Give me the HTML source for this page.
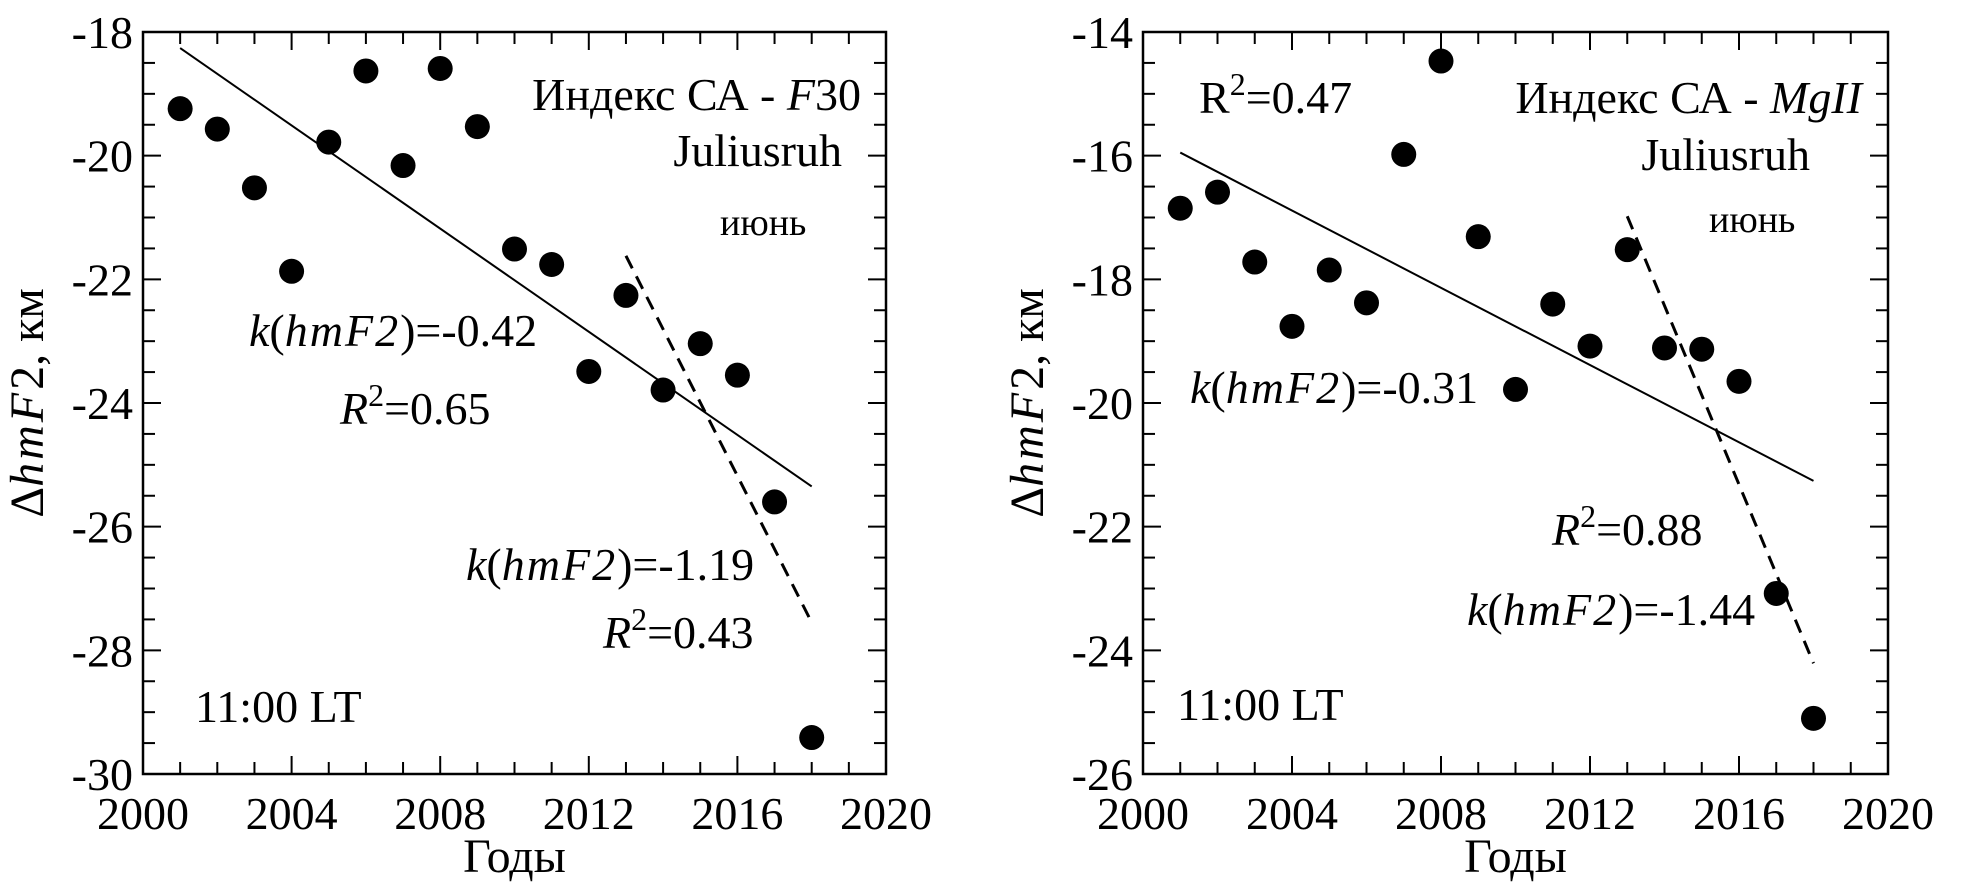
<!DOCTYPE html>
<html><head><meta charset="utf-8"><style>
html,body{margin:0;padding:0;background:#fff;}
svg{display:block;font-family:"Liberation Serif",serif;}
</style></head><body>
<svg id="svg" width="1965" height="887" viewBox="0 0 1965 887" xmlns="http://www.w3.org/2000/svg"></svg>
<script>
const years = [2001,2002,2003,2004,2005,2006,2007,2008,2009,2010,2011,2012,2013,2014,2015,2016,2017,2018];
const f30Values = [-19.24,-19.57,-20.52,-21.87,-19.78,-18.63,-20.16,-18.59,-19.53,-21.51,-21.76,-23.49,-22.26,-23.79,-23.04,-23.55,-25.60,-29.41];
const mg2Values = [-16.85,-16.59,-17.72,-18.76,-17.85,-18.38,-15.98,-14.47,-17.31,-19.78,-18.40,-19.08,-17.52,-19.11,-19.13,-19.65,-23.08,-25.10];
const f30Trend = [[2001,-18.26],[2018,-25.35]];
const f30Dashed = [[2013,-21.62],[2018,-27.55]];
const mg2Trend = [[2001,-15.95],[2018,-21.26]];
const mg2Dashed = [[2013,-16.98],[2018,-24.21]];
const xTicks = [2000,2004,2008,2012,2016,2020];
const f30YTicks = [-18,-20,-22,-24,-26,-28,-30];
const mg2YTicks = [-14,-16,-18,-20,-22,-24,-26];

const NS="http://www.w3.org/2000/svg";
const svg=document.getElementById('svg');
function el(tag,attrs,parent){const e=document.createElementNS(NS,tag);for(const k in attrs)e.setAttribute(k,attrs[k]);(parent||svg).appendChild(e);return e;}

function panel(cfg){
  const g=el('g',{});
  
  
  const L=cfg.left,R=cfg.right,T=32,B=774;
  const sx=v=>L+(v-2000)/20*(R-L);
  const sy=v=>T+(cfg.ymax-v)/12*(B-T);
  for(let y=2000;y<=2020;y++){
    const len=(y%4===0)?18:12;const x=sx(y);
    el('line',{x1:x,y1:B,x2:x,y2:B-len,stroke:'#000','stroke-width':2},g);
    el('line',{x1:x,y1:T,x2:x,y2:T+len,stroke:'#000','stroke-width':2},g);
  }
  for(let i=0;i<=24;i++){
    const v=cfg.ymax-i*0.5;const y=sy(v);const len=(i%4===0)?18:12;
    el('line',{x1:L,y1:y,x2:L+len,y2:y,stroke:'#000','stroke-width':2},g);
    el('line',{x1:R,y1:y,x2:R-len,y2:y,stroke:'#000','stroke-width':2},g);
  }
  const frame=el('rect',{x:L,y:T,width:R-L,height:B-T,fill:'none',stroke:'#000','stroke-width':2.5},g);
  
  
  xTicks.forEach(t=>{const tx=el('text',{x:sx(t),y:829,'font-size':46,'text-anchor':'middle'},g);tx.textContent=t;
    });
  cfg.yTicks.forEach(t=>{const tx=el('text',{x:L-10,y:sy(t)+16,'font-size':46,'text-anchor':'end'},g);tx.textContent=String(t);
    });
  const xt=el('text',{x:(L+R)/2,y:872,'font-size':48,'text-anchor':'middle'},g);xt.textContent='Годы';
  
  const yt=el('text',{x:0,y:0,'font-size':48,'text-anchor':'middle',transform:`translate(${L-100},${(T+B)/2}) rotate(-90)`},g);
  yt.innerHTML='<tspan>Δ</tspan><tspan font-style="italic" letter-spacing="3">hmF</tspan><tspan>2, км</tspan>';
  
  const ln=el('line',{x1:sx(cfg.trend[0][0]),y1:sy(cfg.trend[0][1]),x2:sx(cfg.trend[1][0]),y2:sy(cfg.trend[1][1]),stroke:'#000','stroke-width':2},g);
  
  const dl=el('line',{x1:sx(cfg.dashed[0][0]),y1:sy(cfg.dashed[0][1]),x2:sx(cfg.dashed[1][0]),y2:sy(cfg.dashed[1][1]),stroke:'#000','stroke-width':3,'stroke-dasharray':'14,9'},g);
  
  years.forEach((yr,i)=>{const c=el('circle',{cx:sx(yr),cy:sy(cfg.values[i]),r:12.5,fill:'#000'},g);
    });
  cfg.texts.forEach(t=>{const tx=el('text',{x:t[0],y:t[1],'font-size':t[4]||46,'text-anchor':t[3]||'start'},g);tx.innerHTML=t[2];
    });
}
const K='<tspan font-style="italic">k</tspan>(<tspan font-style="italic" letter-spacing="2">hmF2</tspan>)=';
const R2='<tspan font-style="italic">R</tspan><tspan font-size="32" dy="-18">2</tspan><tspan dy="18">=';
panel({name:'f30-panel',left:143,right:886,ymax:-18,values:f30Values,trend:f30Trend,dashed:f30Dashed,yTicks:f30YTicks,
  texts:[[861,110,'Индекс СА - <tspan font-style="italic">F</tspan>30','end'],[842,166,'Juliusruh','end'],[720,235,'июнь','start',38],
  [249,346,K+'-0.42'],[340,424,R2+'0.65</tspan>'],[466,580,K+'-1.19'],[603,648,R2+'0.43</tspan>'],[195,722,'11:00 LT']]});
panel({name:'mgii-panel',left:1143,right:1888,ymax:-14,values:mg2Values,trend:mg2Trend,dashed:mg2Dashed,yTicks:mg2YTicks,
  texts:[[1199,113,'R<tspan font-size="32" dy="-18">2</tspan><tspan dy="18">=0.47</tspan>'],[1862,113,'Индекс СА - <tspan font-style="italic">MgII</tspan>','end'],[1810,170,'Juliusruh','end'],[1709,232,'июнь','start',38],
  [1190,403,K+'-0.31'],[1552,545,R2+'0.88</tspan>'],[1467,625,K+'-1.44'],[1177,720,'11:00 LT']]});
</script>
</body></html>
